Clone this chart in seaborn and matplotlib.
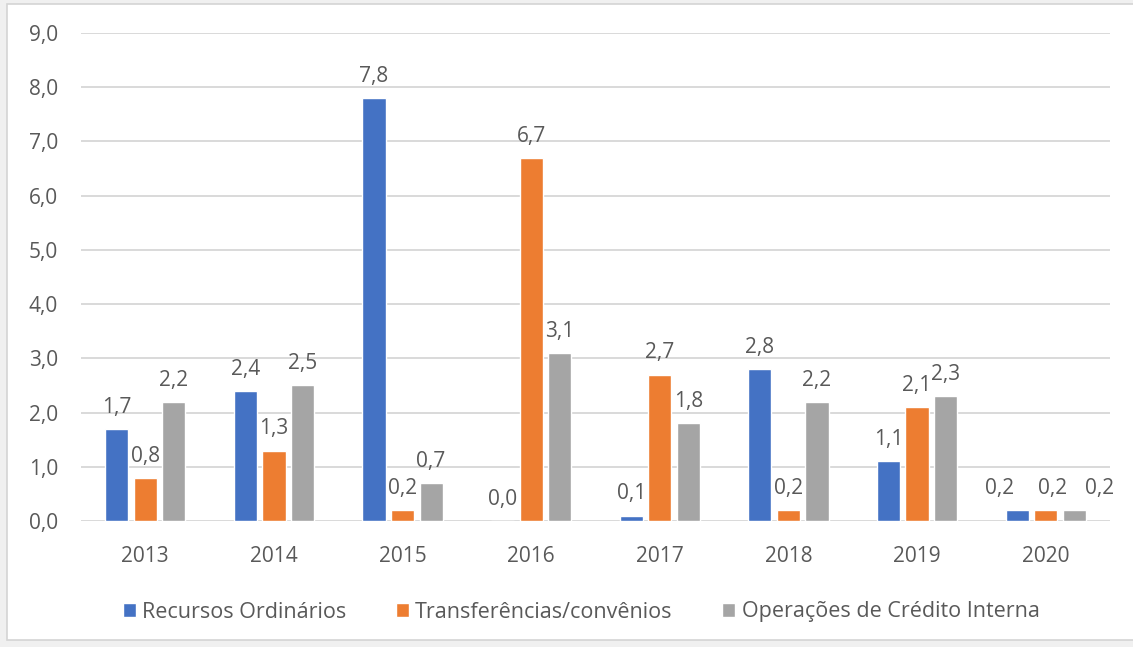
import matplotlib
matplotlib.use("Agg")
import matplotlib.pyplot as plt
from matplotlib.patches import Rectangle
from matplotlib.ticker import FuncFormatter
import pandas as pd
import seaborn as sns

# Values per funding source (R$ milhões), 2013-2020
anos = ["2013", "2014", "2015", "2016", "2017", "2018", "2019", "2020"]
recursos_ordinarios = [1.7, 2.4, 7.8, 0.0, 0.1, 2.8, 1.1, 0.2]
transferencias = [0.8, 1.3, 0.2, 6.7, 2.7, 0.2, 2.1, 0.2]
operacoes_credito = [2.2, 2.5, 0.7, 3.1, 1.8, 2.2, 2.3, 0.2]
fontes = ["Recursos Ordinários", "Transferências/convênios", "Operações de Crédito Interna"]
cores = ["#4472C4", "#ED7D31", "#A5A5A5"]

series = [recursos_ordinarios, transferencias, operacoes_credito]
df = pd.DataFrame(
    [(ano, fonte, v) for fonte, vals in zip(fontes, series) for ano, v in zip(anos, vals)],
    columns=["Ano", "Fonte", "Valor"],
)

sns.set_theme(style="white")
plt.rcParams["font.family"] = ["Open Sans", "DejaVu Sans"]
texto = "#595959"
grade = "#D9D9D9"

fig = plt.figure(figsize=(11.33, 6.47), dpi=100)
fig.patch.set_facecolor("#F0F0F0")
# white chart area with a thin border
fig.patches.append(Rectangle((7 / 1133, 7 / 647), 1.01, 636 / 647, transform=fig.transFigure,
                             facecolor="white", edgecolor="#D4D4D4", linewidth=1.2, zorder=-5))

ax = fig.add_axes([81 / 1133, 126 / 647, 1029 / 1133, 488 / 647])
ax.set_zorder(2)
ax.set_facecolor("none")

sns.barplot(data=df, x="Ano", y="Valor", hue="Fonte", hue_order=fontes, palette=cores,
            width=0.666, gap=0.19, saturation=1, ax=ax, legend=True, zorder=3)

# value labels; the crowded 2020 group is spread sideways so the labels don't collide
spread_2020 = [-13, 5, 18]
for cont, vals, dx in zip(ax.containers, series, spread_2020):
    anns = ax.bar_label(cont, labels=[f"{v:.1f}".replace(".", ",") for v in vals],
                        padding=8, fontsize=15, color=texto)
    anns[-1].xyann = (dx, anns[-1].xyann[1])

ax.set_ylim(0, 9)
ax.set_yticks(range(0, 10))
ax.yaxis.set_major_formatter(FuncFormatter(lambda v, _: f"{v:.1f}".replace(".", ",")))
ax.grid(axis="y", color=grade, linewidth=1.4, zorder=0)
ax.set_axisbelow(True)
for s in ax.spines.values():
    s.set_visible(False)
ax.tick_params(axis="both", length=0, labelsize=15, colors=texto)
ax.tick_params(axis="y", pad=16.5)
ax.tick_params(axis="x", pad=18)
ax.set_xlabel("")
ax.set_ylabel("")

handles, labels = ax.get_legend_handles_labels()
ax.get_legend().remove()
leg = fig.legend(handles, labels, loc="center", bbox_to_anchor=(581 / 1133, 1 - 612 / 647), ncol=3,
                 frameon=False, fontsize=15.5, handlelength=0.6, handleheight=0.6, handletextpad=0.3,
                 columnspacing=2.3, labelcolor=texto)
leg.set_zorder(3)

fig.savefig("out.png", dpi=100)
